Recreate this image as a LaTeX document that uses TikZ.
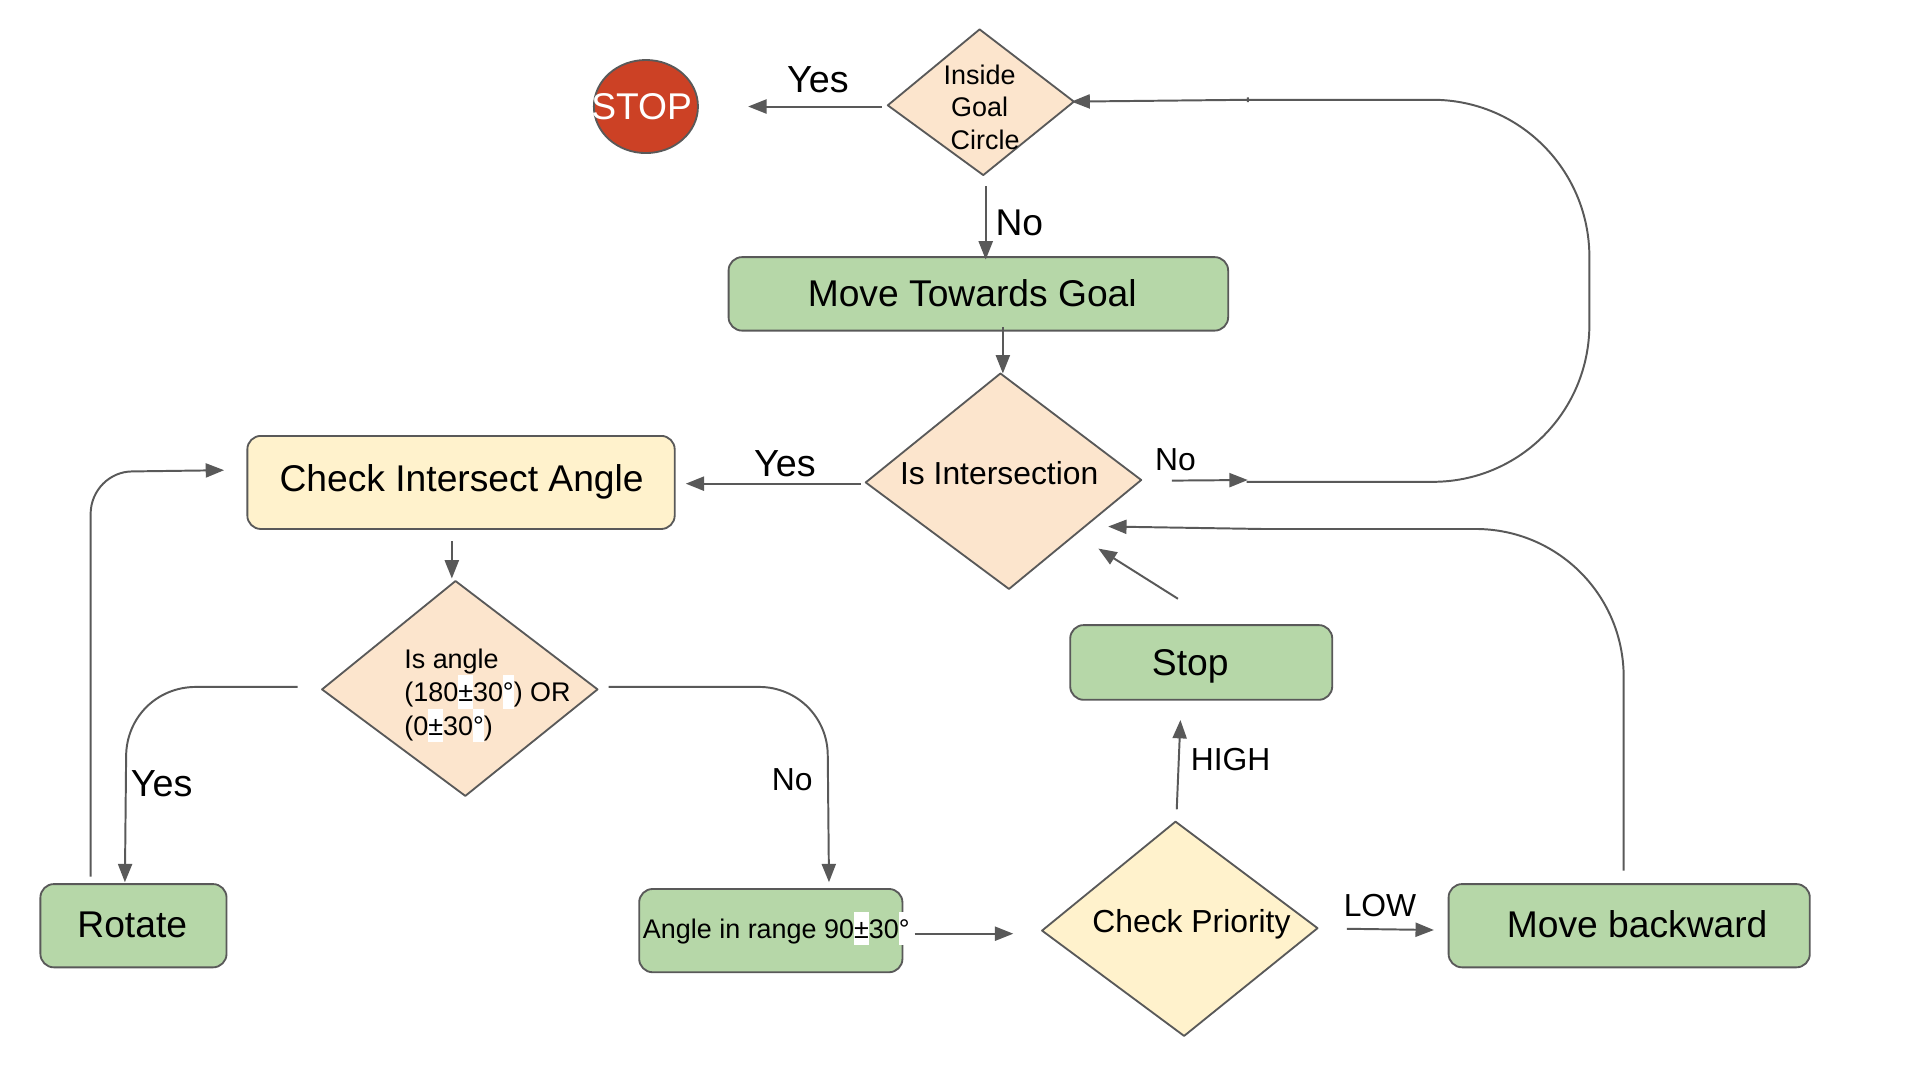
\documentclass[tikz,border=0pt]{standalone}
\usepackage{fontspec}
\setmainfont{Liberation Sans}
\usetikzlibrary{arrows.meta,shapes.geometric}
\definecolor{linegrey}{HTML}{595959}
\definecolor{boxgreen}{HTML}{B6D7A8}
\definecolor{boxyellow}{HTML}{FFF2CC}
\definecolor{boxpeach}{HTML}{FCE5CD}
\definecolor{stopred}{HTML}{CC4125}
\newcommand{\hlw}[1]{{\setlength{\fboxsep}{0pt}\colorbox{white}{\rule[-5.4pt]{0pt}{27.2pt}#1}}}
\newcommand{\dmd}[6]{%
  \coordinate (#1t) at #3; \coordinate (#1r) at #4; \coordinate (#1b) at #5; \coordinate (#1l) at #6;
  \draw[outl,fill=#2] (#1t) -- (#1r) -- (#1b) -- (#1l) -- cycle;}
\tikzset{
  outl/.style={draw=linegrey,line width=1.5pt,line join=round},
  conn/.style={draw=linegrey,line width=1.6pt},
  arr/.style={conn,-{Triangle[length=15pt,width=11.5pt,fill=linegrey]}},
  rbox/.style={outl,rounded corners=11pt,inner sep=0pt,fill=boxgreen},
  big/.style={font=\fontsize{30.4}{34}\selectfont,anchor=mid,inner sep=0pt},
  yeslab/.style={font=\fontsize{30.8}{34}\selectfont,anchor=mid,inner sep=0pt},
  lab/.style={font=\fontsize{26}{30}\selectfont,anchor=mid,inner sep=0pt},
  small/.style={font=\fontsize{22}{27.5}\selectfont,inner sep=0pt},
}
\begin{document}
\begin{tikzpicture}[x=1pt,y=-1pt]
\useasboundingbox (0,0) rectangle (1568,882);
% shapes
\node[ellipse,outl,fill=stopred,minimum width=85pt,minimum height=76pt,inner sep=0pt] (stop) at (527.5,87) {};
\node[big,text=white] (stoplab) at (524,95) {STOP};
\dmd{goal}{boxpeach}{(800,24)}{(877,83)}{(803,143)}{(725,86)}
\node[small,align=center,font=\fontsize{22}{26.5}\selectfont] (goallab) at (800,87.5) {Inside\\Goal\\\hspace*{9pt}Circle};
\node[rbox,minimum width=408pt,minimum height=60pt] (mtg) at (799,240) {};
\node[big] (mtglab) at (794,247.5) {Move Towards Goal};
\dmd{int}{boxpeach}{(817,305)}{(932,392)}{(824,481)}{(707,394)}
\node[lab] (intlab) at (816,393) {Is Intersection};
\node[rbox,fill=boxyellow,minimum width=349pt,minimum height=76pt] (cia) at (376.5,394) {};
\node[big] (cialab) at (377,398.5) {Check Intersect Angle};
\dmd{ang}{boxpeach}{(372,474.5)}{(488,563)}{(380,650)}{(263,563)}
\node[small,align=left,anchor=west] (anglab) at (330,568) {Is angle\\(180\hlw{±}30\hlw{°}) OR\\(0\hlw{±}30\hlw{°})};
\node[rbox,minimum width=214pt,minimum height=61pt] (stp) at (981,541) {};
\node[big] (stplab) at (972,549) {Stop};
\node[rbox,minimum width=152pt,minimum height=68pt] (rot) at (109,756) {};
\node[big] (rotlab) at (108,763) {Rotate};
\node[rbox,minimum width=215pt,minimum height=68pt] (rng) at (629.5,760) {};
\node[small,anchor=mid] (rnglab) at (634,764) {Angle in range 90\hlw{±}30\hlw{°}};
\dmd{pri}{boxyellow}{(960,671)}{(1076,758)}{(967,846)}{(851,760)}
\node[lab] (prilab) at (973,759) {Check Priority};
\node[rbox,minimum width=295pt,minimum height=68pt] (mvb) at (1330.5,756) {};
\node[big] (mvblab) at (1337,763) {Move backward};
% edge labels
\node[yeslab] (y1) at (668,72.5) {Yes};
\node[big] (n1) at (832.5,190) {No};
\node[yeslab] (y2) at (641,386.5) {Yes};
\node[lab] (n2) at (960,382) {No};
\node[yeslab] (y3) at (132,647.5) {Yes};
\node[lab] (n3) at (647,643) {No};
\node[lab] (high) at (1005,627) {HIGH};
\node[lab] (low) at (1127,746) {LOW};
% free ends
\coordinate (a1) at (720,87); \coordinate (a2) at (611,87);
\coordinate (b1) at (805,152); \coordinate (b2) at (805,212);
\coordinate (c1) at (819,267); \coordinate (c2) at (819,305);
\coordinate (d1) at (957,392.5); \coordinate (d2) at (1019,392);
\coordinate (e1) at (703,395); \coordinate (e2) at (560,395);
\coordinate (f1) at (369,442); \coordinate (f2) at (369,472.5);
\coordinate (g1) at (243,561); \coordinate (g2) at (102,720.5);
\coordinate (h1) at (497,561); \coordinate (h2) at (677,720.5);
\coordinate (i1) at (74,716); \coordinate (i2) at (183,384);
\coordinate (j1) at (747,762.5); \coordinate (j2) at (827.5,762.5);
\coordinate (k1) at (961,661); \coordinate (k2) at (964,588);
\coordinate (l1) at (1100,758.5); \coordinate (l2) at (1171,759.5);
\coordinate (m1) at (962,489); \coordinate (m2) at (897,448);
\coordinate (o1) at (1326,711); \coordinate (o2) at (905,430);
\coordinate (p1) at (1018,393.5); \coordinate (p2) at (875,83);
% connectors
\draw[arr] (a1) -- (a2);
\draw[arr] (b1) -- (b2);
\draw[arr] (c1) -- (c2);
\draw[arr] (d1) -- (d2);
\draw[arr] (p1) -- (1170,393.5) .. controls (1241,393.5) and (1298,336) .. (1298,265)
  -- (1298,210) .. controls (1298,139) and (1241,81.5) .. (1170,81.5) -- (1019,81.5) -- ++(0,2) -- ++(0,-4) -- ++(0,2) -- (p2);
\draw[arr] (e1) -- (e2);
\draw[arr] (f1) -- (f2);
\draw[arr] (g1) -- (160,561) .. controls (128,561) and (103,586) .. (103,618) -- (g2);
\draw[arr] (h1) -- (620,561) .. controls (651,561) and (676,586) .. (676,617) -- (h2);
\draw[arr] (i1) -- (74,420) .. controls (74,400) and (90,385) .. (108,385) -- (i2);
\draw[arr] (j1) -- (j2);
\draw[arr] (k1) -- (k2);
\draw[arr] (l1) -- (l2);
\draw[arr] (m1) -- (m2);
\draw[arr] (o1) -- (1326,553) .. controls (1326,486) and (1272,432) .. (1205,432) -- (1030,432) -- (o2);
\end{tikzpicture}
\end{document}
